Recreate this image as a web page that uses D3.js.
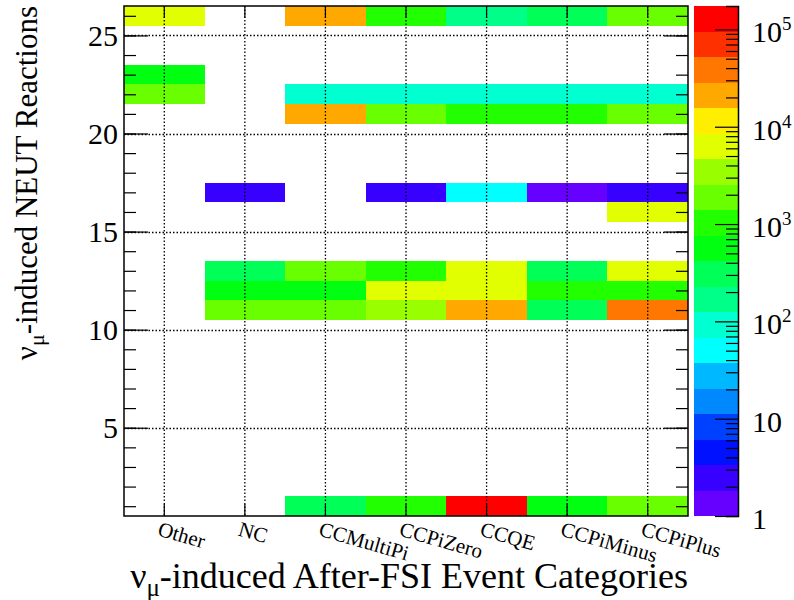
<!DOCTYPE html>
<html>
<head>
<meta charset="utf-8">
<script src="https://cdn.jsdelivr.net/npm/d3@7"></script>
<style>
  body { margin: 0; background: #fff; }
  text { font-family: "Liberation Serif", "Times New Roman", serif; fill: #000; }
</style>
</head>
<body>
<div id="wrapper"></div>
<script>
// 1. Data
const categories = ["Other", "NC", "CCMultiPi", "CCPiZero", "CCQE", "CCPiMinus", "CCPiPlus"]
const reactions = [1, 11, 12, 13, 16, 17, 21, 22, 23, 26]
// counts per category, same order as reactions (null = empty bin)
const otherCounts     = [null, null, null, null, null, null, null, 1900, 560, 6300]
const ncCounts        = [null, 1900, 560, 310, null, 2, null, null, null, null]
const ccMultiPiCounts = [310, 1900, 650, 1900, null, null, 21000, 90, null, 21000]
const ccPiZeroCounts  = [1050, 3400, 6300, 1050, null, 2, 1900, 95, null, 1050]
const ccqeCounts      = [150000, 21000, 6300, 6300, null, 50, 1050, 100, null, 170]
const ccPiMinusCounts = [560, 310, 1050, 310, null, 1, 1050, 85, null, 310]
const ccPiPlusCounts  = [1900, 38000, 1050, 6300, 6300, 2, 1900, 92, null, 1900]
const yTickValues = [5, 10, 15, 20, 25]
const zRange = [1, 174000]
const zLabelExponents = [0, 1, 2, 3, 4, 5]

// ROOT "pretty" palette, 20 contour levels, bottom -> top
const palette = ["#6600ff", "#3700ff", "#0011ff", "#0040ff", "#0088ff", "#00b8ff", "#00ffff", "#00ffd1",
                 "#00ff88", "#00ff57", "#00ff11", "#22ff00", "#69ff00", "#99ff00", "#e1ff00", "#ffee00",
                 "#ffa800", "#ff7700", "#ff3000", "#ff0000"]

const countsByCategory = [otherCounts, ncCounts, ccMultiPiCounts, ccPiZeroCounts,
                          ccqeCounts, ccPiMinusCounts, ccPiPlusCounts]
const cells = []
countsByCategory.forEach((arr, i) => {
  arr.forEach((v, j) => {
    if (v != null) cells.push({ cat: categories[i], reaction: reactions[j], value: v })
  })
})

// 2. Dimensions
const dimensions = {
  width: 794,
  height: 600,
  frame: { left: 124, right: 688, top: 6, bottom: 516 },
  bar: { left: 694, right: 738 },
}

// 3. Canvas
const svg = d3.select("#wrapper").append("svg")
  .attr("width", dimensions.width)
  .attr("height", dimensions.height)
const f = dimensions.frame

// 4. Scales
const xScale = d3.scaleBand()
  .domain(categories)
  .range([f.left, f.right])
  .padding(0)
const yScale = d3.scaleLinear()
  .domain([0.5, 26.5])
  .range([f.bottom, f.top])
const logMax = Math.log10(zRange[1])
const colorScale = d3.scaleQuantize()
  .domain([0, logMax])
  .range(palette)
const zScale = d3.scaleLog()
  .domain(zRange)
  .range([f.bottom, f.top])

// 5. Cells
svg.append("g").selectAll("rect")
  .data(cells)
  .join("rect")
    .attr("x", d => xScale(d.cat))
    .attr("y", d => yScale(d.reaction + 0.5))
    .attr("width", xScale.bandwidth())
    .attr("height", d => yScale(d.reaction - 0.5) - yScale(d.reaction + 0.5))
    .attr("fill", d => colorScale(Math.log10(d.value)))
    .attr("shape-rendering", "crispEdges")

// 6. Grid (dotted)
const grid = svg.append("g")
  .attr("stroke", "#000")
  .attr("stroke-width", 1.3)
  .attr("stroke-dasharray", "1.5,2")
grid.selectAll(".vgrid")
  .data(categories)
  .join("line")
    .attr("x1", d => xScale(d) + xScale.bandwidth() / 2)
    .attr("x2", d => xScale(d) + xScale.bandwidth() / 2)
    .attr("y1", f.top)
    .attr("y2", f.bottom)
grid.selectAll(".hgrid")
  .data(yTickValues)
  .join("line")
    .attr("x1", f.left)
    .attr("x2", f.right)
    .attr("y1", d => Math.round(yScale(d)) + 0.5)
    .attr("y2", d => Math.round(yScale(d)) + 0.5)

// 7. Axes
const styleAxis = g => {
  g.select(".domain").remove()
  g.selectAll(".tick line").attr("stroke", "#000").attr("stroke-width", 1.2)
}

const minorY = d3.range(1, 27)
svg.append("g")
  .attr("transform", `translate(${f.left},0)`)
  .call(d3.axisLeft(yScale).tickValues(minorY).tickSize(-12).tickFormat(""))
  .call(styleAxis)
svg.append("g")
  .attr("transform", `translate(${f.right},0)`)
  .call(d3.axisRight(yScale).tickValues(minorY).tickSize(-12).tickFormat(""))
  .call(styleAxis)
const yAxis = svg.append("g")
  .attr("transform", `translate(${f.left},0)`)
  .call(d3.axisLeft(yScale).tickValues(yTickValues).tickSize(-24).tickPadding(6))
  .call(styleAxis)
yAxis.selectAll(".tick text")
  .attr("font-family", "Liberation Serif")
  .attr("font-size", 30)
  .attr("dy", "0.34em")
svg.append("g")
  .attr("transform", `translate(${f.right},0)`)
  .call(d3.axisRight(yScale).tickValues(yTickValues).tickSize(-24).tickFormat(""))
  .call(styleAxis)

const xCenter = d => xScale(d) + xScale.bandwidth() / 2
svg.append("g")
  .attr("transform", `translate(0,${f.bottom})`)
  .call(d3.axisBottom(xScale).tickSize(-12).tickFormat(""))
  .call(styleAxis)
svg.append("g")
  .attr("transform", `translate(0,${f.top})`)
  .call(d3.axisTop(xScale).tickSize(-12).tickFormat(""))
  .call(styleAxis)

svg.append("g").selectAll("text")
  .data(categories)
  .join("text")
    .attr("transform", d => `translate(${xCenter(d) - 3},${f.bottom + 3}) rotate(16)`)
    .attr("dy", "0.8em")
    .attr("font-size", 21)
    .text(d => d)

// frame
svg.append("rect")
  .attr("x", f.left)
  .attr("y", f.top)
  .attr("width", f.right - f.left)
  .attr("height", f.bottom - f.top)
  .attr("fill", "none")
  .attr("stroke", "#000")
  .attr("stroke-width", 1.5)

// 8. Colour bar
const levels = d3.range(palette.length)
const step = logMax / palette.length
svg.append("g").selectAll("rect")
  .data(levels)
  .join("rect")
    .attr("x", dimensions.bar.left)
    .attr("width", dimensions.bar.right - dimensions.bar.left)
    .attr("y", i => zScale(Math.pow(10, (i + 1) * step)))
    .attr("height", i => zScale(Math.pow(10, i * step)) - zScale(Math.pow(10, (i + 1) * step)))
    .attr("fill", i => palette[i])
    .attr("shape-rendering", "crispEdges")

const zTicks = zScale.ticks()
const isMajor = v => Math.abs(Math.log10(v) - Math.round(Math.log10(v))) < 1e-9
svg.append("g")
  .attr("transform", `translate(${dimensions.bar.right},0)`)
  .call(d3.axisRight(zScale).tickValues(zTicks).tickSize(-12).tickFormat(""))
  .call(g => g.selectAll(".tick line").attr("x2", d => isMajor(d) ? -23 : -12).attr("stroke", "#000").attr("stroke-width", 1.2))
  .call(g => g.select(".domain").attr("stroke", "#000").attr("stroke-width", 1.5))

const zLabels = svg.append("g").selectAll("text")
  .data(zLabelExponents)
  .join("text")
    .attr("x", dimensions.bar.right + 14)
    .attr("y", e => zScale(Math.pow(10, e)) + 13)
    .attr("font-size", 30)
zLabels.append("tspan")
  .text(e => e === 0 ? "1" : "10")
zLabels.filter(e => e >= 2).append("tspan")
  .attr("font-size", 19)
  .attr("dy", -12)
  .text(e => e)

// 9. Titles
svg.append("text")
  .attr("x", f.right)
  .attr("y", 588)
  .attr("text-anchor", "end")
  .attr("font-size", 36)
  .call(t => {
    t.append("tspan").text("ν")
    t.append("tspan").attr("font-size", 25).attr("dy", 8).text("μ")
    t.append("tspan").attr("dy", -8).text("-induced After-FSI Event Categories")
  })

svg.append("text")
  .attr("transform", `translate(37,${f.top}) rotate(-90)`)
  .attr("text-anchor", "end")
  .attr("font-size", 31)
  .call(t => {
    t.append("tspan").text("ν")
    t.append("tspan").attr("font-size", 22).attr("dy", 7).text("μ")
    t.append("tspan").attr("dy", -7).text("-induced NEUT Reactions")
  })
</script>
</body>
</html>
